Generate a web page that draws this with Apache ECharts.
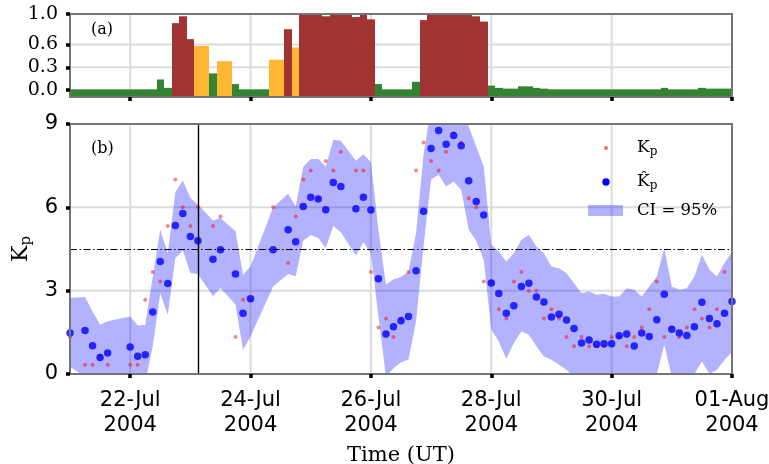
<!DOCTYPE html>
<html><head><meta charset="utf-8">
<script src="https://cdn.jsdelivr.net/npm/echarts@6/dist/echarts.min.js"></script>
<style>html,body{margin:0;padding:0;background:#fff}#c{width:769px;height:464px}</style>
</head><body><div id="c"></div>
<script>
// ---------------- data ----------------
const xStart = '2004-07-21 00:00';
const xEnd = '2004-08-01 00:00';
const tickDates = ['2004-07-22', '2004-07-24', '2004-07-26', '2004-07-28', '2004-07-30', '2004-08-01'];

// panel (a): 3-hourly storm probability, starting at probStart
const probStart = '2004-07-21 00:00';
const probStepHours = 3;
const probs = [
  0.01, 0.01, 0.01, 0.01, 0.01, 0.01, 0.01, 0.01,
  0.01, 0.01, 0.01, 0.01, 0.14, 0.03, 0.88, 0.97,
  0.67, 0.58, 0.58, 0.22, 0.38, 0.38, 0.08, 0.01,
  0.01, 0.01, 0.01, 0.40, 0.40, 0.80, 0.56, 0.99,
  0.99, 1.00, 0.97, 0.99, 0.99, 0.99, 0.96, 0.99,
  0.93, 0.08, 0.01, 0.01, 0.01, 0.01, 0.11, 0.92,
  0.99, 0.99, 0.99, 0.99, 0.99, 0.99, 0.97, 0.90,
  0.06, 0.03, 0.02, 0.02, 0.05, 0.05, 0.03, 0.02,
  0.01, 0.01, 0.01, 0.01, 0.01, 0.01, 0.01, 0.01,
  0.01, 0.01, 0.01, 0.01, 0.01, 0.01, 0.01, 0.03,
  0.01, 0.01, 0.01, 0.01, 0.03, 0.02, 0.02, 0.02,
  0.02
];
const probTicks = [0.0, 0.3, 0.6, 1.0];
const probMin = -0.09, probMax = 1.0;

// panel (b)
const kpTimes = [
  '2004-07-21 00:00', '2004-07-21 06:00', '2004-07-21 09:00', '2004-07-21 12:00', '2004-07-21 15:00',
  '2004-07-22 00:00', '2004-07-22 03:00', '2004-07-22 06:00', '2004-07-22 09:00', '2004-07-22 12:00', '2004-07-22 15:00', '2004-07-22 18:00', '2004-07-22 21:00',
  '2004-07-23 00:00', '2004-07-23 03:00', '2004-07-23 09:00', '2004-07-23 12:00', '2004-07-23 18:00', '2004-07-23 21:00',
  '2004-07-24 00:00', '2004-07-24 09:00', '2004-07-24 15:00', '2004-07-24 18:00', '2004-07-24 21:00',
  '2004-07-25 00:00', '2004-07-25 03:00', '2004-07-25 06:00', '2004-07-25 09:00', '2004-07-25 12:00', '2004-07-25 18:00', '2004-07-25 21:00',
  '2004-07-26 00:00', '2004-07-26 03:00', '2004-07-26 06:00', '2004-07-26 09:00', '2004-07-26 12:00', '2004-07-26 15:00', '2004-07-26 18:00', '2004-07-26 21:00',
  '2004-07-27 00:00', '2004-07-27 03:00', '2004-07-27 06:00', '2004-07-27 09:00', '2004-07-27 12:00', '2004-07-27 15:00', '2004-07-27 18:00', '2004-07-27 21:00',
  '2004-07-28 00:00', '2004-07-28 03:00', '2004-07-28 06:00', '2004-07-28 09:00', '2004-07-28 12:00', '2004-07-28 15:00', '2004-07-28 18:00', '2004-07-28 21:00',
  '2004-07-29 00:00', '2004-07-29 03:00', '2004-07-29 06:00', '2004-07-29 09:00', '2004-07-29 12:00', '2004-07-29 15:00', '2004-07-29 18:00', '2004-07-29 21:00',
  '2004-07-30 00:00', '2004-07-30 03:00', '2004-07-30 06:00', '2004-07-30 09:00', '2004-07-30 12:00', '2004-07-30 15:00', '2004-07-30 18:00', '2004-07-30 21:00',
  '2004-07-31 00:00', '2004-07-31 03:00', '2004-07-31 06:00', '2004-07-31 09:00', '2004-07-31 12:00', '2004-07-31 15:00', '2004-07-31 18:00', '2004-07-31 21:00',
  '2004-08-01 00:00'
];
const kp = [
  1.33, 0.33, 0.33, 0.67, 0.33,
  0.33, 0.33, 2.67, 3.67, 3.33, 5.33, 7.00, 6.00,
  5.33, 6.00, 5.33, 5.67, 1.33, 2.67,
  2.67, 6.00, 4.00, 5.67, 7.00,
  7.33, 6.33, 7.67, 7.33, 8.00, 7.33, 7.33,
  3.67, 1.67, 2.00, 1.33, 2.00, 3.67, 7.33, 8.33,
  7.67, 7.33, 8.00, 8.67, 8.33, 6.33, 6.00, 3.33,
  3.33, 2.33, 2.00, 3.33, 3.67, 3.00, 3.00, 2.00,
  2.33, 2.00, 1.33, 1.00, 1.33, 1.00, 1.00, 1.00,
  1.33, 1.33, 1.00, 1.33, 1.67, 2.33, 3.33, 1.33,
  1.67, 1.33, 1.67, 2.33, 2.00, 1.67, 2.33, 3.67,
  2.67
];
const kpHat = [
  1.48, 1.57, 1.02, 0.59, 0.76,
  0.97, 0.64, 0.69, 2.23, 4.05, 3.26, 5.35, 5.78,
  4.95, 4.80, 4.13, 4.47, 3.60, 2.19,
  2.71, 4.47, 5.19, 4.76, 6.03,
  6.36, 6.30, 5.91, 6.89, 6.75, 5.95, 6.36,
  5.90, 3.43, 1.44, 1.70, 1.92, 2.07, 3.72, 5.86,
  8.12, 8.77, 8.27, 8.59, 8.22, 6.96, 6.21, 5.72,
  3.28, 2.90, 2.19, 2.46, 3.15, 3.27, 2.77, 2.59,
  2.05, 2.15, 1.94, 1.64, 1.12, 1.22, 1.07, 1.09,
  1.09, 1.38, 1.44, 1.01, 1.48, 1.35, 1.95, 2.87,
  1.61, 1.48, 1.39, 1.70, 2.58, 2.00, 1.81, 2.19,
  2.61
];
const ciLow = [
  0.26, -0.10, -0.60, -0.90, -0.80,
  -0.70, -0.90, -0.30, 1.00, 2.90, 2.13, 4.17, 4.45,
  3.64, 3.60, 2.80, 3.10, 2.50, 0.87,
  1.35, 3.15, 3.60, 3.52, 4.80,
  5.00, 4.90, 4.54, 5.34, 5.10, 4.27, 4.74,
  4.35, 2.07, -0.10, 0.21, 0.42, 0.52, 1.90, 4.60,
  7.00, 7.17, 6.75, 6.93, 6.63, 5.19, 4.80, 4.10,
  1.60, 1.17, 0.55, 1.12, 1.53, 1.41, 1.00, 0.63,
  0.51, 0.33, 0.15, -0.10, -0.40, -0.40, -0.50, -0.50,
  -0.50, -0.40, -0.30, -0.40, -0.30, -0.30, 0.00, 1.05,
  -0.10, -0.30, -0.30, 0.00, 0.45, 0.00, 0.15, 0.50,
  0.80
];
const ciHigh = [
  2.74, 2.77, 2.25, 1.77, 1.90,
  2.07, 1.75, 1.77, 3.50, 5.19, 4.35, 6.55, 6.97,
  6.34, 6.10, 5.53, 5.62, 5.14, 3.57,
  3.87, 6.00, 6.49, 6.03, 7.45,
  7.74, 7.74, 7.46, 8.43, 8.40, 7.68, 7.90,
  7.63, 5.19, 3.21, 3.41, 3.49, 3.69, 5.08, 7.90,
  9.60, 9.80, 9.70, 9.80, 9.60, 8.90, 8.19, 7.47,
  4.65, 4.41, 4.05, 4.35, 4.83, 5.01, 4.59, 4.35,
  3.87, 3.81, 3.63, 3.27, 2.91, 2.97, 2.85, 2.89,
  2.79, 2.79, 3.09, 3.03, 2.79, 3.15, 3.51, 4.53,
  3.15, 3.03, 3.09, 3.51, 4.29, 3.75, 3.51, 4.00,
  4.40
];
const kpMin = 0, kpMax = 9, kpInterval = 3;
const kpTicks = [0, 3, 6, 9];
const stormLevel = 4.5;
const markerTime = '2004-07-23 03:00';

// ---------------- helpers ----------------
function T(s) {
  const m = s.match(/(\d+)-(\d+)-(\d+)(?:[ T](\d+):(\d+))?/);
  return Date.UTC(+m[1], +m[2] - 1, +m[3], +(m[4] || 0), +(m[5] || 0));
}
const MON = ['Jan','Feb','Mar','Apr','May','Jun','Jul','Aug','Sep','Oct','Nov','Dec'];
function fmtDate(v) {
  const d = new Date(v);
  const dd = String(d.getUTCDate()).padStart(2, '0');
  return dd + '-' + MON[d.getUTCMonth()] + '\n' + d.getUTCFullYear();
}
const X0 = T(xStart), X1 = T(xEnd);
const xTicks = tickDates.map(T);
const STEP = probStepHours * 3600e3;
const probT0 = T(probStart);
const probData = probs.map((p, i) => [probT0 + i * STEP, p]);
const kpData = kpTimes.map((t, i) => [T(t), kp[i]]);
const hatData = kpTimes.map((t, i) => [T(t), kpHat[i]]);
const bandData = kpTimes.map((t, i) => [T(t), ciLow[i], ciHigh[i]]);

const GREEN = '#338333', ORANGE = '#FFB733', DARKRED = '#A23333';
const BAND = 'rgba(0,0,255,0.3)';
const REDDOT = 'rgba(255,0,0,0.6)';
const GRIDC = '#dcdcdc', SPINE = '#757575';
const SERIF = 'DejaVu Serif', SANS = 'DejaVu Sans';

const grids = [
  {left: 70, top: 14, width: 662, height: 83, outerBoundsMode: 'none', containLabel: false},
  {left: 70, top: 124, width: 662, height: 250, outerBoundsMode: 'none', containLabel: false}
];

// axes: per grid -> x bottom (ticks/labels), x top (spine), y left (ticks/labels), y right (spine)
function mkX(g, labels) {
  const base = {gridIndex: g, type: 'value', min: X0, max: X1, z: 10, splitLine: {show: false}};
  return [
    Object.assign({}, base, {
      position: 'bottom',
      axisLine: {show: true, onZero: false, lineStyle: {color: SPINE, width: 2}},
      axisTick: {show: true, length: 4, customValues: xTicks, lineStyle: {color: '#000', width: 3.5}},
      axisLabel: labels ? {show: true, customValues: xTicks, formatter: fmtDate, fontFamily: SANS,
        fontSize: 21, lineHeight: 25, color: '#000', margin: 14} : {show: false, customValues: xTicks},
      name: labels ? 'Time (UT)' : '', nameLocation: 'middle', nameGap: 71,
      nameTextStyle: {fontFamily: SERIF, fontSize: 21, color: '#000'}
    }),
    Object.assign({}, base, {
      position: 'top',
      axisLine: {show: true, onZero: false, lineStyle: {color: SPINE, width: 2}},
      axisTick: {show: false}, axisLabel: {show: false}
    })
  ];
}
function mkY(g, cfg) {
  const base = Object.assign({gridIndex: g, type: 'value', z: 10, splitLine: {show: false}}, cfg.range);
  return [
    Object.assign({}, base, {
      position: 'left',
      axisLine: {show: true, onZero: false, lineStyle: {color: SPINE, width: 2}},
      axisTick: {show: true, length: 4, customValues: cfg.ticks, lineStyle: {color: '#000', width: 3.5}},
      axisLabel: Object.assign({show: true, color: '#000', margin: 12, customValues: cfg.ticks}, cfg.label),
      name: cfg.name || '', nameLocation: 'middle', nameRotate: 90, nameGap: cfg.nameGap || 30,
      nameTextStyle: cfg.nameStyle || {}
    }),
    Object.assign({}, base, {
      position: 'right',
      axisLine: {show: true, onZero: false, lineStyle: {color: SPINE, width: 2}},
      axisTick: {show: false}, axisLabel: {show: false}
    })
  ];
}

const xAxis = mkX(0, false).concat(mkX(1, true));      // 0,1 -> grid0 ; 2,3 -> grid1
const yAxis = mkY(0, {
  range: {min: probMin, max: probMax},
  ticks: probTicks,
  label: {fontFamily: SERIF, fontSize: 19, formatter: v => Number(v).toFixed(1)}
}).concat(mkY(1, {
  range: {min: kpMin, max: kpMax, interval: kpInterval},
  ticks: kpTicks,
  label: {fontFamily: SANS, fontSize: 21},
  name: '{k|K}{s|p}', nameGap: 35,
  nameStyle: {color: '#000', rich: {
    k: {fontFamily: SERIF, fontSize: 22, color: '#000'},
    s: {fontFamily: SERIF, fontSize: 15, color: '#000', padding: [9, 0, 0, 0]}
  }}
}));

// light grid lines through the library's scales (custom series drawn first, under the marks)
function gridLineSeries(xi, yi, yLo, yHi, yTicks) {
  const items = xTicks.map(t => [t, yLo, t, yHi]).concat(yTicks.map(v => [X0, v, X1, v]));
  return {
    type: 'custom', xAxisIndex: xi, yAxisIndex: yi, z: 2, silent: true, clip: false,
    data: items,
    encode: {x: [0, 2], y: [1, 3]},
    renderItem: function (params, api) {
      const a = api.coord([api.value(0), api.value(1)]);
      const b = api.coord([api.value(2), api.value(3)]);
      return {type: 'line', shape: {x1: a[0], y1: a[1], x2: b[0], y2: b[1]},
        style: {stroke: GRIDC, lineWidth: 2, fill: null}};
    }
  };
}

const series = [
  gridLineSeries(0, 0, probMin, probMax, probTicks),
  gridLineSeries(2, 2, kpMin, kpMax, kpTicks),
  {
    type: 'custom', xAxisIndex: 0, yAxisIndex: 0, clip: true, silent: true, z: 2,
    data: probData,
    renderItem: function (params, api) {
      const t = api.value(0), p = api.value(1);
      const cs = params.coordSys;
      const a = api.coord([t - STEP / 2, p]);
      const b = api.coord([t + STEP / 2, probMin]);
      const x0 = Math.round(Math.max(a[0], cs.x));
      const x1 = Math.round(Math.min(b[0], cs.x + cs.width));
      const fill = p >= 0.6 ? DARKRED : (p >= 0.3 ? ORANGE : GREEN);
      return {type: 'rect', shape: {x: x0, y: a[1], width: x1 - x0, height: b[1] - a[1]},
        style: {fill: fill}};
    }
  },
  {
    type: 'custom', xAxisIndex: 2, yAxisIndex: 2, clip: true, silent: true, z: 2,
    data: bandData,
    renderItem: function (params, api) {
      if (params.dataIndex !== 0) return null;
      const up = [], dn = [];
      for (let i = 0; i < bandData.length; i++) {
        up.push(api.coord([bandData[i][0], bandData[i][2]]));
        dn.push(api.coord([bandData[i][0], bandData[i][1]]));
      }
      dn.reverse();
      return {type: 'polygon', shape: {points: up.concat(dn)}, style: {fill: BAND}};
    }
  },
  {
    type: 'scatter', xAxisIndex: 2, yAxisIndex: 2, data: kpData, z: 3,
    symbolSize: 4, itemStyle: {color: REDDOT}, silent: true
  },
  {
    type: 'scatter', xAxisIndex: 2, yAxisIndex: 2, data: hatData, z: 4,
    symbolSize: 7.5, itemStyle: {color: '#0000ff'}, silent: true,
    markLine: {
      silent: true, symbol: ['none', 'none'], label: {show: false}, animation: false,
      data: [
        {yAxis: stormLevel, lineStyle: {type: [7, 2.5, 1.5, 2.5], color: '#000', width: 1.1}},
        {xAxis: T(markerTime), lineStyle: {type: 'solid', color: '#000', width: 1.4}}
      ]
    }
  }
];

const legendRich = {
  k: {fontFamily: SERIF, fontSize: 17, fill: '#000', color: '#000'},
  s: {fontFamily: SERIF, fontSize: 12, fill: '#000', color: '#000', padding: [8, 0, 0, 0]}
};
const graphic = [
  {type: 'text', x: 91, y: 30, z: 20, style: {text: '(a)', fontFamily: SERIF, fontSize: 16, fill: '#000', verticalAlign: 'middle'}},
  {type: 'text', x: 91, y: 149, z: 20, style: {text: '(b)', fontFamily: SERIF, fontSize: 16, fill: '#000', verticalAlign: 'middle'}},
  {type: 'circle', z: 20, shape: {cx: 606, cy: 148, r: 2}, style: {fill: REDDOT}},
  {type: 'text', x: 637, y: 148, z: 20, style: {text: '{k|K}{s|p}', rich: legendRich, verticalAlign: 'middle', fontFamily: SERIF, fontSize: 17}},
  {type: 'circle', z: 20, shape: {cx: 606, cy: 182, r: 3.7}, style: {fill: '#0000ff'}},
  {type: 'text', x: 637, y: 182, z: 20, style: {text: '{k|K\u0302}{s|p}', rich: legendRich, verticalAlign: 'middle', fontFamily: SERIF, fontSize: 17}},
  {type: 'rect', z: 20, shape: {x: 588, y: 205, width: 35, height: 11}, style: {fill: BAND}},
  {type: 'text', x: 637, y: 211, z: 20, style: {text: 'CI = 95%', fontFamily: SERIF, fontSize: 16.5, fill: '#000', verticalAlign: 'middle'}}
];

const chart = echarts.init(document.getElementById('c'), null, {renderer: 'canvas'});
chart.setOption({
  animation: false,
  backgroundColor: '#fff',
  grid: grids,
  xAxis: xAxis,
  yAxis: yAxis,
  series: series,
  graphic: graphic
});
</script>
</body></html>
